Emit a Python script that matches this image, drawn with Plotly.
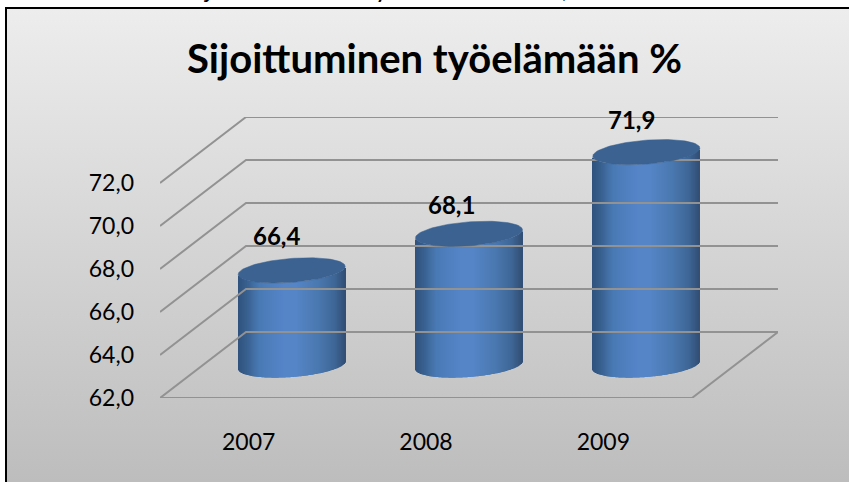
import numpy as np
import plotly.graph_objects as go

categories = ["2007", "2008", "2009"]
values = [66.4, 68.1, 71.9]
value_labels = ["66,4", "68,1", "71,9"]
y_ticks = [62, 64, 66, 68, 70, 72]
y_tick_labels = ["62,0", "64,0", "66,0", "68,0", "70,0", "72,0"]
title_text = "Sijoittuminen työelämään %"
cut_off_glyphs = ["j", "y", "("]

W, H = 849, 482
L, R, B, T = 160, 778, 398, 117
CAT_PX = 177.33
UNIT_PX = 21.5
DEPTH_X = 86 / CAT_PX
DEPTH_Y = 66 / UNIT_PX
A = 53.5 / CAT_PX
EB = 12 / UNIT_PX
EK = 4 / UNIT_PX
FONT = "Lato"
GRID = "#929292"
label_shift_x = [-15, -18, -15]
label_shift_y = [35, 29, 33]
glyph_px = [207, 382, 562]
y0 = y_ticks[0]
x_hi = (R - L) / CAT_PX
y_hi = y0 + (B - T) / UNIT_PX

stops = [(0, "#30527d"), (.08, "#38608f"), (.2, "#4a7ab5"), (.42, "#5585c8"), (.55, "#5585c6"),
         (.75, "#4a78b0"), (.9, "#3f6797"), (1, "#324f76")]


def shade(t):
    rgb = [[int(c[i:i + 2], 16) for i in (1, 3, 5)] for _, c in stops]
    pos = [p for p, _ in stops]
    return "rgb(%d,%d,%d)" % tuple(np.interp(t, pos, [r[k] for r in rgb]) for k in range(3))


fig = go.Figure()

# full-page background
fig.add_trace(go.Scatter(
    x=[0, 1, 1, 0, 0], y=[0, 0, 1, 1, 0], mode="lines", fill="toself", line_width=0,
    fillgradient=dict(type="vertical", colorscale=[[0, "#bdbdbd"], [1, "#ededed"]]),
    hoverinfo="skip", showlegend=False, xaxis="x", yaxis="y"))


def line(xs, ys, color=GRID, width=2):
    fig.add_trace(go.Scatter(x=xs, y=ys, mode="lines", line=dict(color=color, width=width),
                             hoverinfo="skip", showlegend=False, xaxis="x2", yaxis="y2", cliponaxis=False))


n = len(categories)
for v in y_ticks:
    line([0, DEPTH_X, DEPTH_X + n], [v, v + DEPTH_Y, v + DEPTH_Y])
line([0, n, n + DEPTH_X], [y0, y0, y0 + DEPTH_Y])

# cylinders
for i, v in enumerate(values):
    cx = i + .5 + DEPTH_X / 2
    base = y0 + DEPTH_Y / 2
    top = v + DEPTH_Y / 2
    strips = 107
    u = (np.arange(strips) + .5) / strips * 2 - 1
    lower = EK * u - EB * np.sqrt(1 - u ** 2)
    fig.add_trace(go.Bar(
        x=cx + A * u, y=np.full(strips, v - y0), base=base + lower, width=2 * A / strips * 1.25,
        marker=dict(color=[shade((q + 1) / 2) for q in u], line_width=0),
        hoverinfo="skip", showlegend=False, xaxis="x2", yaxis="y2"))
    t = np.linspace(0, 2 * np.pi, 120)
    fig.add_trace(go.Scatter(
        x=cx + A * np.cos(t), y=top + EB * np.sin(t) + EK * np.cos(t), mode="lines",
        fill="toself", fillcolor="#3b6291", line=dict(color="#3b6291", width=.5),
        hoverinfo="skip", showlegend=False, xaxis="x2", yaxis="y2", cliponaxis=False))

annotations = [dict(x=i + .5 + DEPTH_X / 2, y=v + DEPTH_Y / 2, xref="x2", yref="y2", text=f"<b>{s}</b>",
                    showarrow=False, xshift=label_shift_x[i], yshift=label_shift_y[i],
                    font=dict(family=FONT, size=24, color="black"))
               for i, (v, s) in enumerate(zip(values, value_labels))]
annotations.append(dict(x=434.5 / W, y=1 - 58 / H, xref="paper", yref="paper", text=f"<b>{title_text}</b>",
                        xanchor="center", yanchor="middle",
                        showarrow=False, font=dict(family=FONT, size=40, color="black")))
annotations += [dict(x=px / W, y=1 - 5 / H, xref="paper", yref="paper", text=g, xanchor="center", yanchor="bottom",
                     showarrow=False, font=dict(family=FONT, size=26, color="black"))
                for g, px in zip(cut_off_glyphs, glyph_px)]

fig.update_layout(
    width=W, height=495, margin=dict(l=0, r=0, t=0, b=0), autosize=False,
    paper_bgcolor="white", plot_bgcolor="rgba(0,0,0,0)", barmode="overlay", showlegend=False,
    annotations=annotations,
    shapes=[dict(type="line", xref="paper", yref="paper", x0=6 / W, x1=6 / W, y0=0, y1=1 - 8 / H,
                 line=dict(color="black", width=2)),
            dict(type="line", xref="paper", yref="paper", x0=5 / W, x1=1, y0=1 - 8 / H, y1=1 - 8 / H,
                 line=dict(color="black", width=2))],
    xaxis=dict(domain=[0, 1], range=[-6 / (W - 6), 1], visible=False, fixedrange=True),
    yaxis=dict(domain=[0, 1], range=[0, 1 + 8 / (H - 8)], visible=False, fixedrange=True),
    xaxis2=dict(domain=[L / W, R / W], range=[0, x_hi], anchor="y2", tickvals=[.5, 1.5, 2.5], ticktext=categories,
                showgrid=False, zeroline=False, showline=False, ticks="", ticklabelstandoff=28,
                tickfont=dict(family=FONT, size=23, color="black"), fixedrange=True),
    yaxis2=dict(domain=[(H - B) / H, (H - T) / H], range=[y0, y_hi], anchor="x2", tickvals=y_ticks,
                ticktext=y_tick_labels, showgrid=False, zeroline=False, showline=False, ticks="",
                ticklabelstandoff=25, tickfont=dict(family=FONT, size=23, color="black"), fixedrange=True),
)
fig.write_html("out.html", config={"displayModeBar": False},
               post_script="document.body.style.margin='0';document.documentElement.style.overflow='hidden';")
